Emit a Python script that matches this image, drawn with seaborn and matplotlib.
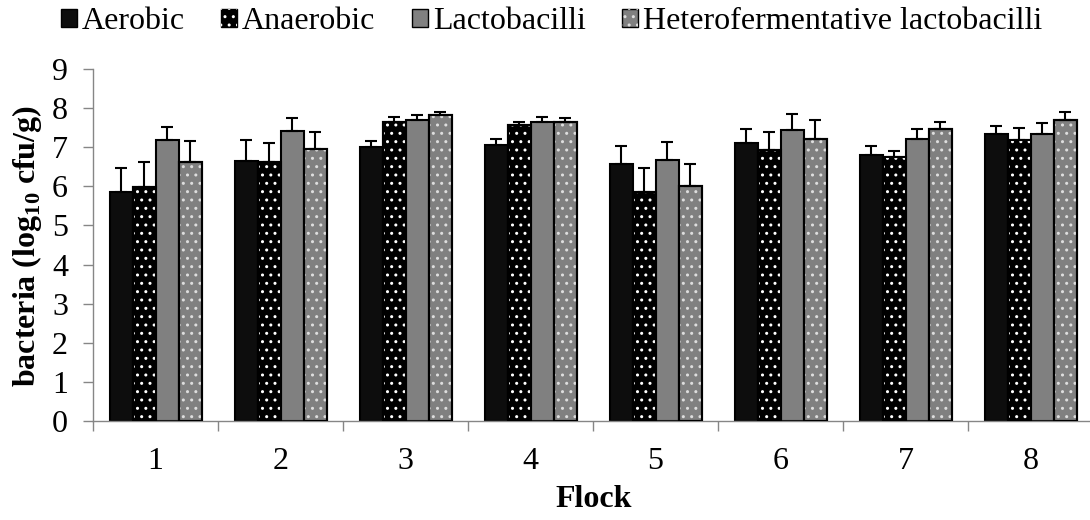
import numpy as np
import pandas as pd
import matplotlib
matplotlib.use("Agg")
import matplotlib.pyplot as plt
from matplotlib.patches import Patch
from matplotlib.legend_handler import HandlerTuple
import seaborn as sns

# Counts per flock (log10 cfu/g), means and upper standard deviations
flocks = ["1", "2", "3", "4", "5", "6", "7", "8"]
groups = ["Aerobic", "Anaerobic", "Lactobacilli", "Heterofermentative lactobacilli"]

aerobic = [5.86, 6.66, 7.00, 7.06, 6.58, 7.11, 6.79, 7.33]
anaerobic = [5.99, 6.61, 7.64, 7.58, 5.86, 6.94, 6.74, 7.19]
lactobacilli = [7.19, 7.41, 7.69, 7.64, 6.67, 7.45, 7.20, 7.34]
hetero = [6.63, 6.95, 7.82, 7.64, 6.00, 7.21, 7.46, 7.69]

aerobic_sd = [0.62, 0.53, 0.16, 0.15, 0.45, 0.35, 0.25, 0.20]
anaerobic_sd = [0.64, 0.49, 0.12, 0.07, 0.62, 0.46, 0.17, 0.29]
lactobacilli_sd = [0.33, 0.34, 0.14, 0.13, 0.46, 0.39, 0.27, 0.28]
hetero_sd = [0.53, 0.44, 0.09, 0.10, 0.58, 0.49, 0.19, 0.22]

means = [aerobic, anaerobic, lactobacilli, hetero]
sds = [aerobic_sd, anaerobic_sd, lactobacilli_sd, hetero_sd]

fills = ["#0d0d0d", "#000000", "#808080", "#808080"]
dots = [None, "#ffffff", None, "#dedede"]

sns.set_theme(style="white")
plt.rcParams["font.family"] = ["Liberation Serif", "DejaVu Serif"]
plt.rcParams["mathtext.fontset"] = "custom"
plt.rcParams["mathtext.rm"] = "Liberation Serif"
plt.rcParams["mathtext.bf"] = "Liberation Serif:bold"
plt.rcParams["hatch.linewidth"] = 1.0
for key in ["text.color", "axes.labelcolor", "xtick.color", "ytick.color"]:
    plt.rcParams[key] = "black"

df = pd.DataFrame({
    "Flock": np.tile(flocks, len(groups)),
    "Group": np.repeat(groups, len(flocks)),
    "value": np.concatenate(means),
})

fig = plt.figure(figsize=(10.9, 5.2), dpi=100)
ax = fig.add_axes([93 / 1090, 99 / 520, 1000 / 1090, 352 / 520])

sns.barplot(data=df, x="Flock", y="value", hue="Group", order=flocks,
            hue_order=groups, palette=fills, saturation=1, width=0.736,
            errorbar=None, edgecolor="black", linewidth=1.5, legend=False,
            ax=ax, zorder=2)

bar_sets = list(ax.containers)[:len(groups)]
for i, cont in enumerate(bar_sets):
    xs = np.array([p.get_x() + p.get_width() / 2 for p in cont])
    hs = np.array([p.get_height() for p in cont])
    w = cont[0].get_width()
    if dots[i] is not None:
        ax.bar(xs, hs, width=w, fill=False, edgecolor=dots[i], linewidth=0,
               hatch="..", zorder=2.5)
        ax.bar(xs, hs, width=w, fill=False, edgecolor="black", linewidth=1.5,
               zorder=2.6)
    ax.errorbar(xs, hs, yerr=[np.zeros(len(hs)), np.array(sds[i])], fmt="none",
                ecolor="black", elinewidth=1.5, capsize=4.3, capthick=1.5,
                zorder=3)

ax.set_xlim(-0.5, 7.5)
ax.set_ylim(0, 9)
ax.set_yticks(range(10))
ax.set_xticks(np.arange(-0.5, 8, 1))
ax.set_xticklabels([])
ax.set_xticks(range(len(flocks)), minor=True)
ax.set_xticklabels(flocks, minor=True)
ax.tick_params(axis="x", which="major", bottom=True, length=7, width=1,
               color="#868686", direction="out")
ax.tick_params(axis="x", which="minor", bottom=True, length=0, pad=19,
               labelsize=23)
ax.tick_params(axis="y", left=True, length=7, width=1, color="#868686",
               direction="out", pad=11, labelsize=23)

for side in ["top", "right"]:
    ax.spines[side].set_visible(False)
for side in ["left", "bottom"]:
    ax.spines[side].set_color("#868686")
    ax.spines[side].set_linewidth(1)

ax.set_xlabel("Flock", fontsize=23, fontweight="bold")
ax.xaxis.set_label_coords(0.501, -0.224)
ax.xaxis.label.set_va("center")
ax.set_ylabel(r"bacteria (log$_{\mathbf{10}}$ cfu/g)", fontsize=23,
              fontweight="bold")
ax.yaxis.set_label_coords(-0.066, 0.497)
ax.yaxis.label.set_va("center")

handles = []
for i in range(len(groups)):
    base = Patch(facecolor=fills[i], edgecolor="black", linewidth=1)
    if dots[i] is None:
        handles.append(base)
    else:
        overlay = Patch(fill=False, edgecolor=dots[i], linewidth=0, hatch="..")
        handles.append((base, overlay))

fig.legend(handles, groups, loc="center", bbox_to_anchor=(0.506, 0.958),
           ncol=4, frameon=False, fontsize=23, handlelength=0.5,
           handleheight=0.5, handletextpad=0.15, columnspacing=1.15,
           borderaxespad=0, borderpad=0,
           handler_map={tuple: HandlerTuple(ndivide=1, pad=0)})

fig.savefig("out.png", dpi=100)
